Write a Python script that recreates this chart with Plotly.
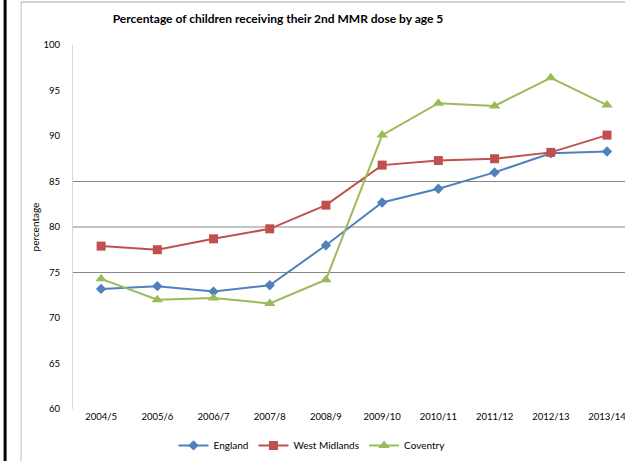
import plotly.graph_objects as go

# data
years = ['2004/5', '2005/6', '2006/7', '2007/8', '2008/9',
         '2009/10', '2010/11', '2011/12', '2012/13', '2013/14']
england = [73.2, 73.5, 72.9, 73.6, 78.0, 82.7, 84.2, 86.0, 88.1, 88.3]
west_midlands = [77.9, 77.5, 78.7, 79.8, 82.4, 86.8, 87.3, 87.5, 88.2, 90.1]
coventry = [74.3, 72.0, 72.2, 71.6, 74.2, 90.1, 93.6, 93.3, 96.4, 93.4]
gridvals = [75, 80, 85]

FONT = 'Lato'

fig = go.Figure()
fig.add_trace(go.Scatter(x=years, y=england, name='England', mode='lines+markers',
                         line=dict(color='#4F81BD', width=2),
                         marker=dict(symbol='diamond', size=8, color='#4F81BD')))
fig.add_trace(go.Scatter(x=years, y=west_midlands, name='West Midlands', mode='lines+markers',
                         line=dict(color='#C0504D', width=2),
                         marker=dict(symbol='square', size=9, color='#C0504D')))
fig.add_trace(go.Scatter(x=years, y=coventry, name='Coventry', mode='lines+markers',
                         line=dict(color='#9BBB59', width=2),
                         marker=dict(symbol='triangle-up', size=10, color='#9BBB59')))

shapes = []
for g in gridvals:
    shapes.append(dict(type='line', xref='paper', x0=0, x1=1, yref='y', y0=g, y1=g,
                       line=dict(color='#868686', width=1.2), layer='below'))
# outer frame bits
shapes.append(dict(type='line', xref='paper', yref='paper', x0=-0.123, x1=-0.123, y0=-0.2, y1=1.2,
                   line=dict(color='black', width=3)))
shapes.append(dict(type='line', xref='paper', yref='paper', x0=-0.094, x1=-0.094, y0=-0.2, y1=1.118,
                   line=dict(color='#BFBFBF', width=1)))
shapes.append(dict(type='line', xref='paper', yref='paper', x0=-0.094, x1=1.0, y0=1.118, y1=1.118,
                   line=dict(color='#A6A6A6', width=1)))

fig.update_layout(
    width=625, height=461,
    margin=dict(l=73, r=0, t=45, b=52, autoexpand=False),
    paper_bgcolor='white', plot_bgcolor='white',
    font=dict(family=FONT, size=10, color='black'),
    title=dict(text='<b>Percentage of children receiving their 2nd MMR dose by age 5</b>',
               x=278 / 625, xanchor='center', xref='container',
               y=1 - 19 / 461, yanchor='middle', yref='container',
               font=dict(family=FONT, size=12, color='black')),
    xaxis=dict(type='category', range=[-0.5, 9.32], showgrid=False, showline=False,
               ticks='', tickfont=dict(size=9.5)),
    yaxis=dict(range=[60, 100], dtick=5, showgrid=False, showline=True,
               linecolor='#D9D9D9', linewidth=1, ticks='', zeroline=False,
               tickfont=dict(size=9.5), ticklabelstandoff=10,
               title=dict(text='percentage', font=dict(size=10), standoff=2)),
    legend=dict(orientation='h', x=0.433, xanchor='center', y=-0.1, yanchor='middle',
                font=dict(size=10), tracegroupgap=0),
    shapes=shapes,
)

# drop the default page margin so the figure sits at the window's corner
fig.write_html('out.html', config={'displayModeBar': False},
               post_script="document.body.style.margin='0';")
